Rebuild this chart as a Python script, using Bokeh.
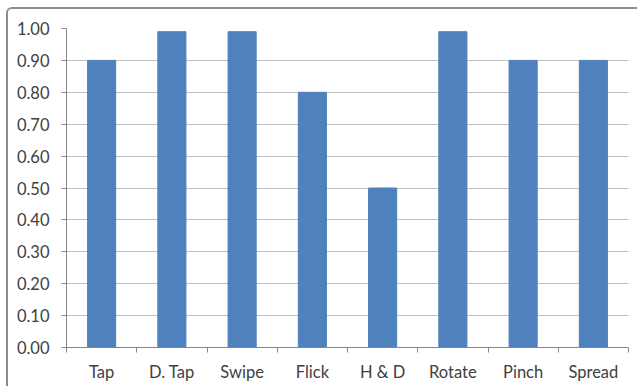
from bokeh.plotting import figure
from bokeh.models import FixedTicker, ColumnDataSource
from bokeh.embed import file_html
from bokeh.resources import INLINE

categories = ["Tap", "D. Tap", "Swipe", "Flick", "H & D", "Rotate", "Pinch", "Spread"]
values = [0.90, 0.99, 0.99, 0.80, 0.50, 0.99, 0.90, 0.90]
y_ticks = [0.0, 0.1, 0.2, 0.3, 0.4, 0.5, 0.6, 0.7, 0.8, 0.9, 1.0]

n = len(categories)
centers = [i + 0.5 for i in range(n)]
src = ColumnDataSource(dict(x=centers, top=values))

p = figure(width=631, height=379, x_range=(0, n), y_range=(0, 1.0),
           output_backend="svg", toolbar_location=None,
           min_border_left=58, min_border_right=11, min_border_top=19, min_border_bottom=41)
p.margin = (7, 0, 0, 6)
p.styles = {"border-top": "2px solid #8c8c8c", "border-left": "2px solid #8c8c8c",
            "border-top-left-radius": "6px"}
p.outline_line_color = None
p.background_fill_color = "white"
p.border_fill_color = "white"

p.vbar(x="x", top="top", width=0.4, bottom=0, source=src, color="#4F81BD")

font = "Lato"
fs = "16.5px"
p.xaxis.ticker = FixedTicker(ticks=centers, minor_ticks=list(range(n + 1)))
p.xaxis.major_label_overrides = {c: lab for c, lab in zip(centers, categories)}
p.xaxis.major_tick_line_color = None
p.xaxis.minor_tick_line_color = "#868686"
p.xaxis.minor_tick_in = 0
p.xaxis.minor_tick_out = 5
p.xaxis.axis_line_color = "#868686"
p.xaxis.major_label_standoff = 8
p.xaxis.major_label_text_font = font
p.xaxis.major_label_text_font_size = fs
p.xaxis.major_label_text_color = "#404040"

p.yaxis.ticker = FixedTicker(ticks=y_ticks, minor_ticks=[])
p.yaxis.major_label_overrides = {t: f"{t:.2f}" for t in y_ticks}
p.yaxis.major_tick_line_color = "#868686"
p.yaxis.major_tick_in = 0
p.yaxis.major_tick_out = 5
p.yaxis.minor_tick_line_color = None
p.yaxis.axis_line_color = "#868686"
p.yaxis.major_label_standoff = 12
p.yaxis.major_label_text_font = font
p.yaxis.major_label_text_font_size = fs
p.yaxis.major_label_text_color = "#404040"

p.xgrid.grid_line_color = None
p.ygrid.ticker = FixedTicker(ticks=y_ticks)
p.ygrid.grid_line_color = "#BFBFBF"

open("out.html", "w").write(file_html(p, INLINE))
